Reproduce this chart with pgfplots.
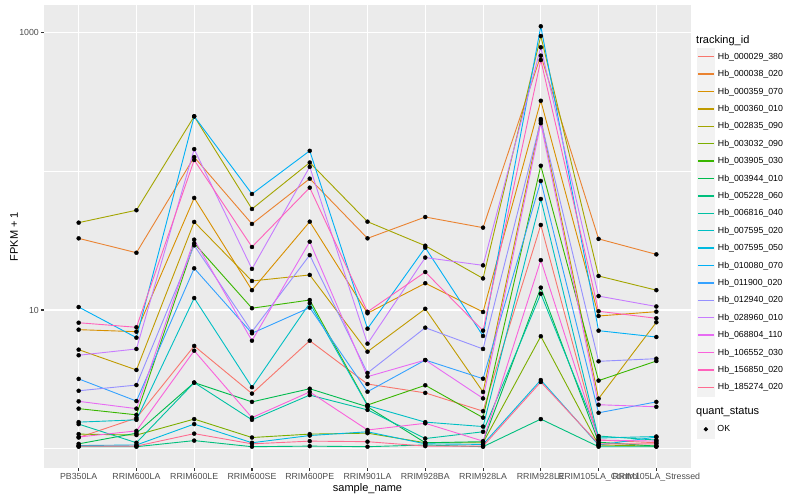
\documentclass[border=0pt]{standalone}
\usepackage{pgfplots}
\pgfplotsset{compat=1.18}
\usepackage{pgfplotstable}
\usepackage{fontspec}
\setmainfont{Liberation Sans}
\definecolor{c1}{HTML}{F8766D}\definecolor{c2}{HTML}{EA8331}\definecolor{c3}{HTML}{D89000}\definecolor{c4}{HTML}{C09B00}
\definecolor{c5}{HTML}{A3A500}\definecolor{c6}{HTML}{7CAE00}\definecolor{c7}{HTML}{39B600}\definecolor{c8}{HTML}{00BB4E}
\definecolor{c9}{HTML}{00BF7D}\definecolor{c10}{HTML}{00C1A3}\definecolor{c11}{HTML}{00BFC4}\definecolor{c12}{HTML}{00BAE0}
\definecolor{c13}{HTML}{00B0F6}\definecolor{c14}{HTML}{35A2FF}\definecolor{c15}{HTML}{9590FF}\definecolor{c16}{HTML}{C77CFF}
\definecolor{c17}{HTML}{E76BF3}\definecolor{c18}{HTML}{FA62DB}\definecolor{c19}{HTML}{FF62BC}\definecolor{c20}{HTML}{FF6C91}
\definecolor{panelbg}{HTML}{EBEBEB}\definecolor{keybg}{HTML}{F2F2F2}
\definecolor{gray30}{HTML}{4D4D4D}\definecolor{gray20}{HTML}{333333}
\pgfplotstableread{
x s1 s2 s3 s4 s5 s6 s7 s8 s9 s10 s11 s12 s13 s14 s15 s16 s17 s18 s19 s20
0 1.20 32.9 7.21 5.17 42.7 1.27 1.94 1.08 1.03 1.50 1.55 1.05 10.5 3.18 2.61 4.71 2.19 1.21 8.09 1.04
1 1.66 25.9 6.97 3.69 52.5 1.25 1.75 1.29 1.03 1.10 1.61 1.06 6.31 2.20 2.87 5.23 1.94 1.34 7.50 1.04
2 5.50 127 64.4 43.2 250 1.63 30.3 2.99 1.14 2.99 12.2 1.50 250 20.0 29.3 145 32.2 5.08 121 1.28
3 2.49 41.8 13.9 16.2 53.6 1.20 10.3 2.17 1.03 1.61 2.77 1.10 68.8 6.79 6.97 19.8 6.00 1.67 28.5 1.08
4 6.00 88.7 43.4 17.9 116 1.27 11.8 2.70 1.04 2.43 11.2 1.24 141 10.4 24.9 108 31.1 2.56 76.4 1.13
5 2.92 32.9 9.47 5.00 43.4 1.29 2.06 2.00 1.03 1.90 2.04 1.32 7.33 2.57 3.51 5.71 3.30 1.36 9.70 1.12
6 2.52 46.9 15.6 10.2 29.1 1.10 2.86 1.10 1.06 1.18 1.55 1.08 28.2 4.35 7.45 23.9 4.35 1.52 18.8 1.04
7 1.86 39.3 9.67 2.56 16.9 1.10 1.67 1.12 1.03 1.32 1.44 1.07 6.49 3.19 5.23 21.0 2.30 1.13 7.09 1.04
8 41.1 686 324 239 951 6.46 110 14.5 1.63 13.1 63.3 3.12 1117 85.4 232 788 223 22.9 638 3.02
9 1.15 32.6 9.05 2.29 17.6 1.06 3.09 1.11 1.03 1.23 1.19 1.06 7.09 1.81 4.26 12.6 2.07 1.15 9.79 1.08
10 1.10 25.2 9.72 8.15 13.9 1.04 4.28 1.04 1.03 1.15 1.22 1.21 6.38 2.17 4.45 10.6 2.00 1.13 8.71 1.08
}\data
\begin{document}
\begin{tikzpicture}[x=1pt,y=1pt]
\useasboundingbox (0,0) rectangle (800,500);
\begin{axis}[
 at={(44pt,32pt)}, anchor=south west,
 scale only axis, width=647pt, height=463pt,
 ymode=log, ymin=0.723, ymax=1592,
 xmin=-0.6, xmax=10.6,
 xtick={0,...,10},
 xticklabels={PB350LA,RRIM600LA,RRIM600LE,RRIM600SE,RRIM600PE,RRIM901LA,RRIM928BA,RRIM928LA,RRIM928LE,RRIM105LA\_Control,RRIM105LA\_Stressed},
 ytick={10,1000}, yticklabels={10,1000},
 minor ytick={1,100},
 xmajorgrids, ymajorgrids, yminorgrids,
 major grid style={white, line width=1.07pt},
 minor grid style={white, line width=0.53pt},
 axis background/.style={fill=panelbg},
 axis line style={draw=none},
 tick align=outside, tick pos=left,
 major tick length=2.75pt, minor tick length=0pt,
 tick style={color=gray20, line width=1.07pt},
 ticklabel style={font=\fontsize{8.8}{10}\selectfont, text=gray30},
 yticklabel style={inner xsep=2.2pt},
 xticklabel style={inner ysep=2.2pt},
 xlabel={sample\_name}, ylabel={FPKM + 1},
 label style={font=\fontsize{11}{13}\selectfont},
 xlabel style={at={(axis description cs:0.5,-0.0454)}, anchor=center},
 ylabel style={at={(axis description cs:-0.0464,0.5)}, anchor=center},
 legend entries={Hb\_000029\_380,Hb\_000038\_020,Hb\_000359\_070,Hb\_000360\_010,Hb\_002835\_090,Hb\_003032\_090,Hb\_003905\_030,Hb\_003944\_010,Hb\_005228\_060,Hb\_006816\_040,Hb\_007595\_020,Hb\_007595\_050,Hb\_010080\_070,Hb\_011900\_020,Hb\_012940\_020,Hb\_028960\_010,Hb\_068804\_110,Hb\_106552\_030,Hb\_156850\_020,Hb\_185274\_020},
 legend cell align=left,
 legend image code/.code={\fill[keybg] (0pt,-8.64pt) rectangle (17.28pt,8.64pt); \draw[#1, line width=1.4pt] (0.6pt,0pt) -- (16.7pt,0pt);},
 legend style={at={(axis description cs:1.0093,0.9078)}, anchor=north west, draw=none, fill=none, inner sep=0pt, outer sep=0pt, row sep=-0.78pt,
   nodes={font=\fontsize{8.8}{10}\selectfont, inner xsep=2.7pt, inner ysep=0pt},
   /tikz/every even column/.append style={column sep=0pt}},
]
\pgfplotsinvokeforeach{1,...,20}{
 \addplot[color=c#1, line width=0.9pt, mark=none] table[x=x, y=s#1] {\data};
}
\pgfplotsinvokeforeach{1,...,20}{
 \addplot[only marks, mark=*, mark size=2pt, black, forget plot] table[x=x, y=s#1] {\data};
}
\end{axis}
\begin{axis}[
 at={(44pt,32pt)}, anchor=south west,
 scale only axis, width=647pt, height=463pt, hide axis,
 xmin=0, xmax=1, ymin=0, ymax=1,
 legend cell align=left,
 legend image code/.code={\fill[keybg] (0pt,-8.64pt) rectangle (17.28pt,8.64pt); \draw[#1] plot coordinates {(8.64pt,0pt)};},
 legend style={at={(axis description cs:1.0093,0.1028)}, anchor=north west, draw=none, fill=none, inner sep=0pt, outer sep=0pt, row sep=0pt,
   nodes={font=\fontsize{8.8}{10}\selectfont, inner xsep=2.7pt, inner ysep=0pt}},
]
\addlegendimage{only marks, mark=*, mark size=1.9pt, black}
\addlegendentry{OK}
\end{axis}
\node[anchor=west, font=\fontsize{11}{13}\selectfont, inner sep=0pt] at (696,459.3) {tracking\_id};
\node[anchor=west, font=\fontsize{11}{13}\selectfont, inner sep=0pt] at (696,87.7) {quant\_status};
\end{tikzpicture}
\end{document}
